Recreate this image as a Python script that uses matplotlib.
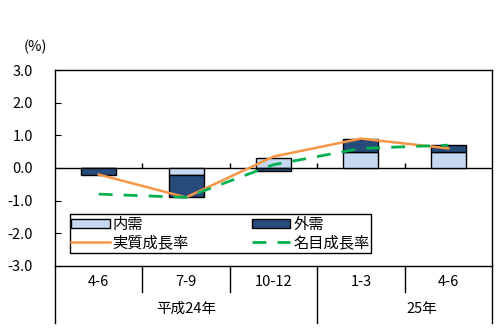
import matplotlib.pyplot as plt
import numpy as np

plt.rcParams['font.family'] = ['Noto Sans CJK JP', 'DejaVu Sans']

quarters = ['4-6', '7-9', '10-12', '1-3', '4-6']
years = ['平成24年', '25年']
domestic = [0.0, -0.2, 0.3, 0.5, 0.5]      # 内需
external = [-0.2, -0.7, -0.1, 0.4, 0.2]    # 外需
real_growth = [-0.2, -0.9, 0.35, 0.9, 0.6]     # 実質成長率
nominal_growth = [-0.8, -0.9, 0.1, 0.6, 0.7]   # 名目成長率

fig = plt.figure(figsize=(5, 3.32), dpi=100)
ax = fig.add_axes([0.11, 0.199, 0.874, 0.59])

x = np.arange(len(quarters))
dom = np.array(domestic)
ext = np.array(external)
ext_bottom = np.where(np.sign(dom) == np.sign(ext), dom, 0.0)

b1 = ax.bar(x, dom, width=0.4, color='#c6d9f1', edgecolor='black', linewidth=1, zorder=2)
b2 = ax.bar(x, ext, bottom=ext_bottom, width=0.4, color='#274b7a', edgecolor='black',
            linewidth=1, zorder=2)
l1, = ax.plot(x, real_growth, color='#f79646', lw=1.8, zorder=3)
l2, = ax.plot(x, nominal_growth, color='#00b050', lw=2, dashes=(5, 4), zorder=3)

ax.axhline(0, color='black', lw=1, zorder=1)
ax.vlines([0.5, 1.5, 2.5, 3.5], 0, 0.16, color='black', lw=1)

ax.set_xlim(-0.5, 4.5)
ax.set_ylim(-3, 3)
ax.set_yticks(np.arange(-3, 3.1, 1))
ax.set_yticklabels([f'{v:.1f}' for v in np.arange(-3, 3.1, 1)], fontsize=10.5)
ax.tick_params(axis='y', direction='in', length=4, pad=16)
ax.set_xticks([])
for s in ax.spines.values():
    s.set_linewidth(1)

# category axis below the plot
tr = ax.get_xaxis_transform()
for xb in [0.5, 1.5, 3.5]:
    ax.plot([xb, xb], [0, -0.133], transform=tr, color='black', lw=1, clip_on=False)
for xb in [-0.5, 2.5, 4.5]:
    ax.plot([xb, xb], [0, -0.29], transform=tr, color='black', lw=1, clip_on=False)
for xi, q in zip(x, quarters):
    ax.text(xi, -0.08, q, transform=tr, ha='center', va='center', fontsize=10.5)
ax.text(1, -0.22, years[0], transform=tr, ha='center', va='center', fontsize=10.5)
ax.text(3.7, -0.22, years[1], transform=tr, ha='center', va='center', fontsize=10.5)

ax.text(-0.045, 1.12, '(%)', transform=ax.transAxes, ha='center', va='center', fontsize=10.5)

leg = ax.legend([b1, l1, b2, l2], ['内需', '実質成長率', '外需', '名目成長率'], ncol=2,
                loc='lower left', bbox_to_anchor=(0.034, 0.066, 0.689, 0.2), mode='expand',
                fontsize=11, fancybox=False, edgecolor='black', framealpha=1, borderpad=0.1,
                labelspacing=0.1, handlelength=2.5, handleheight=0.6, handletextpad=0.2,
                borderaxespad=0)
leg.get_frame().set_linewidth(1)

fig.savefig('out.png', dpi=100)
